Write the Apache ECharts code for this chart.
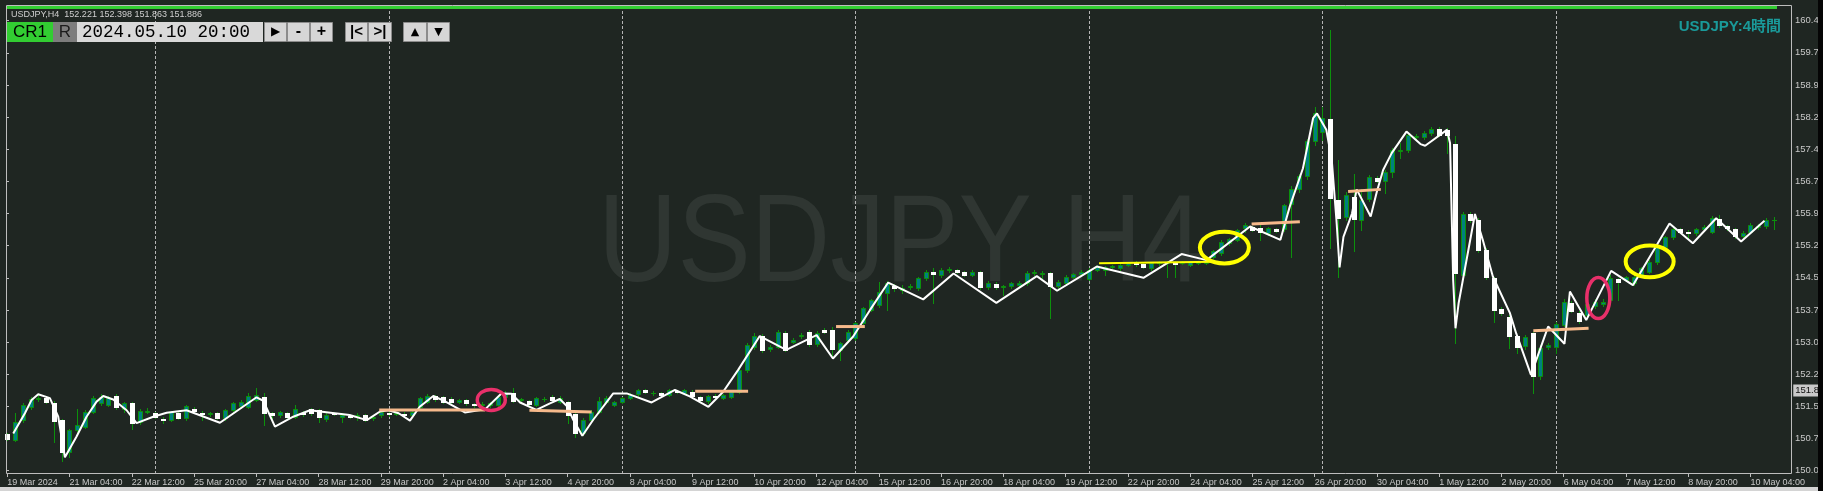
<!DOCTYPE html>
<html>
<head>
<meta charset="utf-8">
<title>USDJPY H4</title>
<script src="https://cdn.jsdelivr.net/npm/echarts@6.0.0/dist/echarts.min.js"></script>
<style>
html,body{margin:0;padding:0;background:#1f2622;overflow:hidden;}
#chart{width:1823px;height:491px;}
</style>
</head>
<body>
<div id="chart"></div>
<script>
// ---------------- data ----------------
// H4 bars, index 0 = 19 Mar 2024 20:00 ... [open, close, low, high]
const ohlc = [
[150.87,150.76,150.74,150.90],[150.74,151.16,150.72,151.36],[151.20,151.55,151.16,151.59],[151.50,151.68,151.46,151.74],
[151.69,151.72,151.64,151.80],[151.71,151.63,151.60,151.76],[151.60,151.19,150.70,151.64],[151.20,150.47,150.26,151.22],
[150.47,150.97,150.34,151.00],[150.97,151.09,150.90,151.45],[151.05,151.40,151.02,151.43],[151.40,151.72,151.37,151.76],
[151.59,151.74,151.55,151.80],[151.55,151.72,151.52,151.76],[151.76,151.51,151.47,151.80],[151.45,151.60,151.40,151.63],
[151.60,151.14,150.99,151.62],[151.16,151.42,151.12,151.45],[151.40,151.42,151.36,151.48],[151.37,151.28,151.24,151.40],
[151.22,151.20,151.13,151.28],[151.20,151.40,151.17,151.42],[151.37,151.26,151.22,151.42],[151.24,151.52,151.20,151.55],
[151.45,151.41,151.38,151.50],[151.37,151.35,151.20,151.42],[151.34,151.37,151.30,151.40],[151.36,151.26,151.22,151.38],
[151.24,151.43,151.20,151.46],[151.43,151.59,151.40,151.62],[151.52,151.63,151.48,151.66],[151.51,151.76,151.48,151.83],
[151.67,151.78,151.64,151.94],[151.74,151.36,151.09,151.82],[151.36,151.32,151.26,151.40],[151.31,151.38,151.28,151.42],
[151.37,151.28,151.25,151.40],[151.28,151.47,151.25,151.55],[151.37,151.35,151.30,151.42],[151.45,151.37,151.33,151.48],
[151.43,151.28,151.16,151.46],[151.22,151.33,151.19,151.36],[151.37,151.35,151.32,151.40],[151.28,151.32,151.16,151.36],
[151.30,151.28,151.25,151.33],[151.30,151.32,151.20,151.36],[151.32,151.20,151.17,151.35],[151.24,151.27,151.20,151.30],
[151.32,151.40,151.28,151.44],[151.37,151.34,151.30,151.44],[151.35,151.36,151.31,151.40],[151.34,151.33,151.28,151.38],
[151.32,151.40,151.28,151.42],[151.50,151.71,151.46,151.74],[151.63,151.76,151.60,151.80],[151.75,151.68,151.64,151.78],
[151.74,151.63,151.60,151.77],[151.70,151.62,151.58,151.74],[151.63,151.67,151.60,151.70],[151.67,151.59,151.56,151.70],
[151.57,151.54,151.51,151.60],[151.55,151.58,151.52,151.62],[151.54,151.59,151.51,151.62],[151.56,151.74,151.53,151.77],
[151.74,151.84,151.71,151.88],[151.82,151.65,151.62,151.94],[151.66,151.68,151.62,151.72],[151.64,151.57,151.54,151.67],
[151.55,151.71,151.52,151.74],[151.70,151.68,151.65,151.74],[151.74,151.67,151.63,151.78],[151.63,151.72,151.60,151.76],
[151.61,151.32,151.13,151.64],[151.34,150.90,150.82,151.36],[150.90,151.21,150.85,151.24],[151.21,151.40,151.18,151.44],
[151.40,151.65,151.37,151.74],[151.63,151.71,151.60,151.75],[151.55,151.61,151.52,151.64],[151.63,151.71,151.59,151.74],
[151.71,151.78,151.68,151.82],[151.80,151.90,151.76,151.93],[151.90,151.86,151.83,151.93],[151.84,151.82,151.78,151.87],
[151.82,151.78,151.75,151.85],[151.78,151.90,151.75,151.93],[151.87,151.86,151.82,151.90],[151.84,151.90,151.80,151.93],
[151.86,151.77,151.74,151.90],[151.74,151.67,151.63,151.77],[151.65,151.76,151.60,151.79],[151.75,151.74,151.70,151.80],
[151.71,151.78,151.68,151.81],[151.74,151.86,151.71,151.89],[151.86,152.36,151.82,152.40],[152.36,152.94,152.32,152.98],
[152.90,153.15,152.86,153.22],[153.15,152.83,152.78,153.19],[152.84,152.90,152.80,152.94],[152.90,153.25,152.87,153.28],
[153.23,152.83,152.80,153.26],[153.02,153.06,152.98,153.10],[153.14,153.17,153.10,153.22],[153.25,152.97,152.93,153.28],
[152.97,153.23,152.93,153.26],[153.29,153.25,153.21,153.33],[153.30,152.84,152.63,153.35],[152.83,152.98,152.60,153.01],
[153.06,153.25,153.02,153.28],[153.10,153.45,153.05,153.48],[153.45,153.79,153.42,153.83],[153.75,153.99,153.72,154.02],
[153.87,154.18,153.83,154.41],[154.14,154.37,153.76,154.43],[154.30,154.26,154.20,154.35],[154.22,154.26,154.14,154.33],
[154.28,154.31,154.25,154.35],[154.26,154.49,154.22,154.52],[154.49,154.64,154.46,154.68],[154.63,154.59,153.91,154.72],
[154.57,154.68,154.53,154.72],[154.67,154.70,154.64,154.75],[154.67,154.63,154.60,154.71],[154.63,154.57,154.54,154.66],
[154.57,154.64,154.54,154.68],[154.63,154.28,154.25,154.66],[154.28,154.39,154.24,154.42],[154.36,154.28,154.25,154.40],
[154.29,154.31,154.10,154.33],[154.30,154.37,154.27,154.40],[154.33,154.39,154.30,154.42],[154.37,154.62,154.34,154.66],
[154.60,154.64,154.57,154.68],[154.59,154.62,154.49,154.66],[154.60,154.30,153.56,154.64],[154.30,154.41,154.27,154.44],
[154.39,154.53,154.36,154.56],[154.53,154.58,154.50,154.61],[154.58,154.64,154.55,154.67],[154.47,154.68,154.44,154.72],
[154.68,154.76,154.65,154.79],[154.68,154.74,154.57,154.77],[154.76,154.77,154.72,154.80],[154.72,154.80,154.69,154.83],
[154.80,154.84,154.77,154.87],[154.85,154.81,154.78,154.88],[154.81,154.76,154.73,154.84],[154.72,154.84,154.69,154.87],
[154.84,154.85,154.80,154.88],[154.84,154.86,154.53,154.89],[154.85,154.83,154.53,154.88],[154.84,154.87,154.81,154.90],
[154.80,154.87,154.77,154.90],[154.84,154.87,154.81,154.90],[154.85,154.90,154.82,154.93],[154.99,155.12,154.95,155.15],
[155.07,155.34,155.03,155.37],[155.30,155.39,155.27,155.42],[155.38,155.61,155.35,155.64],[155.65,155.72,155.57,155.76],
[155.67,155.61,155.58,155.70],[155.66,155.57,155.38,155.76],[155.53,155.65,155.50,155.68],[155.62,155.59,155.56,155.65],
[155.62,156.19,155.58,156.22],[156.21,156.55,154.99,156.62],[156.56,156.86,156.50,156.90],[156.85,157.68,156.80,157.72],
[157.66,158.33,157.58,158.45],[157.89,158.20,157.70,158.45],[158.18,156.34,155.18,160.24],[156.30,155.88,154.53,157.23],
[155.90,156.42,155.84,156.50],[156.38,155.86,155.11,156.91],[155.84,156.30,155.61,156.57],[156.33,156.83,156.28,156.88],
[156.81,156.75,156.72,156.85],[156.75,156.96,156.46,157.01],[156.96,157.46,156.84,157.50],[157.44,157.47,157.27,157.62],
[157.46,157.81,157.42,157.85],[157.76,157.79,157.70,157.83],[157.76,157.86,157.72,157.90],[157.86,157.95,157.82,157.99],
[157.95,157.81,157.78,157.99],[157.93,157.81,157.39,157.97],[157.60,154.62,152.98,157.79],[154.57,155.99,154.50,156.03],
[155.99,155.84,155.80,156.03],[155.84,155.15,155.10,155.88],[155.15,154.53,154.48,155.18],[154.49,153.75,153.48,154.52],
[153.77,153.69,153.64,153.82],[153.60,153.15,152.87,153.64],[153.15,152.90,152.75,153.18],[152.92,153.12,152.85,153.18],
[153.21,152.22,151.84,153.25],[152.22,152.88,152.16,152.94],[152.90,152.94,152.84,152.98],[152.90,153.43,152.75,153.48],
[153.41,153.95,153.38,154.00],[153.92,153.74,153.70,153.96],[153.69,153.51,153.46,153.73],[153.64,153.89,153.60,153.93],
[153.85,153.95,153.80,154.00],[153.89,153.95,153.85,154.00],[153.99,154.49,153.95,154.57],[154.47,154.41,153.99,154.50],
[154.45,154.51,154.42,154.55],[154.37,154.53,154.33,154.57],[154.57,154.72,154.53,154.76],[154.64,154.87,154.60,154.91],
[154.87,155.22,154.83,155.26],[155.22,155.44,155.18,155.47],[155.44,155.62,155.40,155.66],[155.62,155.57,155.54,155.66],
[155.57,155.53,155.40,155.60],[155.53,155.62,155.50,155.66],[155.62,155.68,155.59,155.72],[155.57,155.88,155.53,155.93],
[155.86,155.72,155.68,155.96],[155.69,155.65,155.61,155.72],[155.62,155.47,155.43,155.66],[155.47,155.55,155.40,155.58],
[155.57,155.72,155.53,155.76],[155.67,155.70,155.64,155.74],[155.70,155.84,155.66,155.88],[155.83,155.84,155.62,155.90]
];

// white swing line vertices [bar position, price]
const whiteLine = [
[0.77,150.89],[2.27,151.36],[3.13,151.67],[3.98,151.80],[5.48,151.71],[6.55,151.28],[7.41,150.34],[8.91,150.82],
[10.19,151.28],[11.48,151.63],[12.33,151.76],[13.62,151.68],[15.34,151.43],[16.62,151.13],[18.76,151.28],[20.48,151.37],
[23.04,151.43],[27.33,151.14],[32.04,151.73],[32.9,151.65],[34.4,151.05],[36.75,151.28],[38.9,151.43],[40.18,151.40],
[44.0,151.32],[46.2,151.20],[47.9,151.40],[49.0,151.43],[50.3,151.36],[51.75,151.19],[53.0,151.51],[54.75,151.76],
[56.2,151.64],[58.8,151.38],[61.4,151.45],[63.5,151.82],[64.8,151.81],[65.9,151.61],[68.0,151.44],[69.74,151.59],
[71.0,151.69],[71.9,151.53],[72.73,151.21],[73.9,150.84],[75.3,151.21],[77.87,151.82],[79.6,151.82],[82.8,151.61],
[85.8,151.90],[87.7,151.75],[90.1,151.51],[92.0,151.86],[93.9,152.36],[96.7,153.15],[100.1,152.83],[104.0,153.17],
[106.1,152.63],[108.7,153.14],[110.85,153.75],[113.2,154.39],[117.7,154.00],[121.6,154.60],[127.1,153.92],[132.3,154.54],
[134.9,154.20],[140.0,154.76],[146.0,154.50],[150.9,155.05],[154.1,154.91],[159.7,155.69],[163.6,155.38],[164.8,156.15],
[166.5,157.04],[167.8,158.20],[168.3,158.31],[169.5,157.93],[170.2,157.23],[170.8,155.84],[171.2,154.74],[171.7,155.45],
[172.8,155.99],[173.4,156.55],[175.2,155.92],[176.0,156.50],[176.8,157.00],[177.9,157.39],[179.8,157.89],[181.6,157.60],
[182.2,157.56],[185.0,157.93],[185.4,157.62],[185.8,154.45],[186.1,153.33],[186.5,153.91],[188.6,155.98],[189.6,155.38],
[190.9,154.53],[193.1,153.68],[193.9,153.21],[195.8,152.25],[198.0,153.37],[200.1,152.97],[200.8,154.18],[202.9,153.52],
[206.1,154.66],[208.9,154.33],[213.6,155.76],[216.6,155.30],[219.6,155.88],[222.8,155.34],[225.8,155.82]
];

// orange level segments [fromBar, fromPrice, toBar, toPrice]
const orangeLevels = [
[47.8,151.436,61.4,151.436],[67.1,151.43,75.1,151.39],[88.4,151.87,95.2,151.87],[106.5,153.37,110.2,153.37],
[159.9,155.75,166.1,155.80],[172.3,156.50,176.5,156.55],[196.1,153.27,203.2,153.33]
];
const yellowLevels = [[140.3,154.84,155.2,154.87]];

// annotation ellipse centres [bar position, price]
const pinkMarks = [[62.2,151.67],[204.45,154.03]];
const yellowMarks = [[156.4,155.20],[211.05,154.88]];

// weekly separators (Monday 00:00 bars)
const weekStarts = [19,49,79,109,139,169,199];

// time-axis labels
const xTickBars = [0,8,16,24,32,40,48,56,64,72,80,88,96,104,112,120,128,136,144,152,160,168,176,184,192,200,208,216,224];
const xTickLabels = ['19 Mar 2024','21 Mar 04:00','22 Mar 12:00','25 Mar 20:00','27 Mar 04:00','28 Mar 12:00','29 Mar 20:00',
'2 Apr 04:00','3 Apr 12:00','4 Apr 20:00','8 Apr 04:00','9 Apr 12:00','10 Apr 20:00','12 Apr 04:00','15 Apr 12:00',
'16 Apr 20:00','18 Apr 04:00','19 Apr 12:00','22 Apr 20:00','24 Apr 04:00','25 Apr 12:00','26 Apr 20:00','30 Apr 04:00',
'1 May 12:00','2 May 20:00','6 May 04:00','7 May 12:00','8 May 20:00','10 May 04:00'];

// price-axis labels
const yTicks = [160.460,159.715,158.970,158.225,157.480,156.735,155.990,155.245,154.500,153.755,153.010,152.265,151.520,150.775,150.030];
const bidPrice = 151.886;
const headerText = 'USDJPY,H4  152.221 152.398 151.863 151.886';
const replayTime = '2024.05.10 20:00';
const symbolTitle = 'USDJPY:4時間';
const watermark = 'USDJPY H4';

// ---------------- chart ----------------
const BAR_SLOTS = 230;
const yMin = 149.952, yMax = 160.801;
const BG = '#1f2622', WICK = '#0c910c', BULL = '#008080', BEAR = '#ffffff';
const AXIS_TXT = '#c8c8c8', FRAME = '#bdbdbd';
const FONT = '"Liberation Sans", Arial, sans-serif';

const slots = Array.from({length: BAR_SLOTS}, (_, i) => String(i));
const tickMap = new Map(xTickBars.map((b, k) => [b, xTickLabels[k]]));

const chart = echarts.init(document.getElementById('chart'), null, {renderer: 'canvas', width: 1823, height: 491});

function btn(x, w, label, font) {
  return [
    {type: 'rect', zlevel: 1, z: 50, shape: {x: x + 0.5, y: 22.5, width: w - 1, height: 19}, style: {fill: '#d6d6d6', stroke: '#8c8c8c', lineWidth: 1}},
    {type: 'text', zlevel: 1, z: 51, x: x + w / 2, y: 32, style: {text: label, fill: '#000', font: font || 'bold 15px ' + FONT, align: 'center', verticalAlign: 'middle'}}
  ];
}

const graphics = [
  // watermark (behind the bars)
  {type: 'text', x: 598, y: 247, scaleX: 0.88, z: 0, silent: true,
   style: {text: watermark, fill: '#2f3632', font: '125px ' + FONT, align: 'left', verticalAlign: 'middle'}},
  // frame
  {type: 'rect', zlevel: 1, z: 40, shape: {x: 6.5, y: 5.5, width: 1785, height: 468}, style: {fill: 'none', stroke: FRAME, lineWidth: 1}, silent: true},
  // top green bar
  {type: 'rect', zlevel: 1, z: 41, shape: {x: 7, y: 6, width: 1770, height: 3}, style: {fill: '#32cd32'}},
  // header
  {type: 'text', zlevel: 1, z: 41, x: 11, y: 14.5, style: {text: headerText, fill: '#cfcfcf', font: '9px ' + FONT, verticalAlign: 'middle'}},
  // CR1, R, date
  {type: 'rect', zlevel: 1, z: 50, shape: {x: 7, y: 22, width: 46, height: 20}, style: {fill: '#32cd32'}},
  {type: 'text', zlevel: 1, z: 51, x: 30, y: 32.5, style: {text: 'CR1', fill: '#000', font: '17px ' + FONT, align: 'center', verticalAlign: 'middle'}},
  {type: 'rect', zlevel: 1, z: 50, shape: {x: 53, y: 22, width: 24, height: 20}, style: {fill: '#7d7d7d'}},
  {type: 'text', zlevel: 1, z: 51, x: 65, y: 32.5, style: {text: 'R', fill: '#1c1c1c', font: '17px ' + FONT, align: 'center', verticalAlign: 'middle'}},
  {type: 'rect', zlevel: 1, z: 50, shape: {x: 77, y: 22, width: 186, height: 20}, style: {fill: '#d9d9d9'}},
  {type: 'text', zlevel: 1, z: 51, x: 82, y: 32.5, style: {text: replayTime, fill: '#000', font: '17.5px "Liberation Mono", monospace', align: 'left', verticalAlign: 'middle'}},
  ...btn(264, 23, '▶', '12px "DejaVu Sans"'),
  ...btn(287, 23, '-', 'bold 16px ' + FONT),
  ...btn(310, 23, '+', 'bold 16px ' + FONT),
  ...btn(345, 23, '|<', 'bold 15px ' + FONT),
  ...btn(368, 24, '>|', 'bold 15px ' + FONT),
  ...btn(403, 24, '▲', '11px "DejaVu Sans"'),
  ...btn(427, 23, '▼', '11px "DejaVu Sans"'),
  // symbol title
  {type: 'text', zlevel: 1, z: 41, x: 1781, y: 27, style: {text: symbolTitle, fill: '#1a9a9a', font: 'bold 15px "Liberation Sans", "Noto Sans CJK JP", sans-serif', align: 'right', verticalAlign: 'middle'}},
  // window edges
  {type: 'rect', zlevel: 1, z: 100, shape: {x: 0, y: 487, width: 1818, height: 4}, style: {fill: '#d4d4d4'}},
  {type: 'rect', zlevel: 1, z: 100, shape: {x: 1818, y: 0, width: 5, height: 491}, style: {fill: '#050505'}}
];

const option = {
  animation: false,
  backgroundColor: BG,
  textStyle: {fontFamily: FONT},
  grid: [
    {left: 3.35, right: 29.75, top: 6, bottom: 17, show: false, containLabel: false, outerBoundsMode: 'none'},
    {left: 6, right: 31, top: 6, bottom: 17, show: false, containLabel: false, outerBoundsMode: 'none'}
  ],
  xAxis: [
    {type: 'category', gridIndex: 0, data: slots, boundaryGap: true,
     axisLine: {show: false},
     axisTick: {show: true, alignWithLabel: true, interval: (i) => tickMap.has(i), length: 3, lineStyle: {color: FRAME}},
     axisLabel: {interval: (i) => tickMap.has(i), formatter: (v, i) => tickMap.get(i) || '', align: 'left',
                 margin: 4, color: AXIS_TXT, fontSize: 9, fontFamily: FONT, hideOverlap: false},
     splitLine: {show: false}},
    {type: 'value', gridIndex: 0, min: -0.5, max: BAR_SLOTS - 0.5, show: false},
    {type: 'value', gridIndex: 1, min: 0, max: 1, show: false}
  ],
  yAxis: [
    {type: 'value', gridIndex: 0, min: yMin, max: yMax, position: 'right',
     axisLine: {show: false}, axisTick: {show: false}, splitLine: {show: false},
     axisLabel: {customValues: [bidPrice], formatter: (v) => v.toFixed(3), color: '#111', backgroundColor: '#c9c9c9',
                 padding: [1, 2, 1, 2], margin: 0, fontSize: 9.5, fontFamily: FONT}},
    {type: 'value', gridIndex: 1, min: yMin, max: yMax, position: 'right',
     axisLine: {show: false}, splitLine: {show: false},
     axisTick: {show: true, customValues: yTicks, length: 3, lineStyle: {color: FRAME}},
     axisLabel: {customValues: yTicks, formatter: (v) => v.toFixed(3), color: AXIS_TXT, fontSize: 9.5, margin: 3, fontFamily: FONT}}
  ],
  graphic: graphics,
  series: [
    {
      name: 'weeks', type: 'custom', xAxisIndex: 1, yAxisIndex: 0, silent: true, z: 1,
      data: weekStarts.map((b) => [b, yMin]), encode: {x: 0, y: 1},
      renderItem: (params, api) => {
        const p = api.coord([api.value(0), yMin]);
        const cs = params.coordSys;
        const x = Math.round(p[0]) + 0.5;
        return {type: 'line', shape: {x1: x, y1: cs.y, x2: x, y2: cs.y + cs.height},
                style: {stroke: '#b5b5b5', lineWidth: 1, lineDash: [3, 2]}};
      }
    },
    {
      name: 'USDJPY', type: 'custom', xAxisIndex: 0, yAxisIndex: 0, silent: true, z: 2, clip: true,
      data: ohlc.map((r, i) => [i, r[0], r[1], r[2], r[3]]), encode: {x: 0, y: [1, 2, 3, 4]},
      renderItem: (params, api) => {
        const i = api.value(0), o = api.value(1), c = api.value(2), l = api.value(3), h = api.value(4);
        const pO = api.coord([i, o]), pC = api.coord([i, c]), pL = api.coord([i, l]), pH = api.coord([i, h]);
        const x = Math.round(pO[0]);
        const yT = Math.round(Math.min(pO[1], pC[1])), yB = Math.round(Math.max(pO[1], pC[1]));
        const kids = [{type: 'line', shape: {x1: x + 0.5, y1: Math.round(pH[1]), x2: x + 0.5, y2: Math.round(pL[1]) + 1},
                       style: {stroke: WICK, lineWidth: 1}}];
        if (yB - yT < 1) {
          kids.push({type: 'line', shape: {x1: x - 2, y1: yT + 0.5, x2: x + 3, y2: yT + 0.5}, style: {stroke: WICK, lineWidth: 1}});
        } else if (c >= o) {
          kids.push({type: 'rect', shape: {x: x - 1.5, y: yT + 0.5, width: 4, height: yB - yT}, style: {fill: BULL, stroke: WICK, lineWidth: 1}});
        } else {
          kids.push({type: 'rect', shape: {x: x - 2, y: yT, width: 5, height: yB - yT + 1}, style: {fill: BEAR}});
        }
        return {type: 'group', children: kids};
      }
    },
    {
      name: 'swing', type: 'line', xAxisIndex: 1, yAxisIndex: 0, silent: true, z: 3,
      data: whiteLine, symbol: 'none', lineStyle: {color: '#ffffff', width: 2}
    },
    {
      name: 'levels', type: 'custom', xAxisIndex: 1, yAxisIndex: 0, silent: true, z: 4,
      data: orangeLevels.concat(yellowLevels), encode: {x: [0, 2], y: [1, 3]},
      renderItem: (params, api) => {
        const a = api.coord([api.value(0), api.value(1)]);
        const b = api.coord([api.value(2), api.value(3)]);
        const yellow = params.dataIndex >= orangeLevels.length;
        return {type: 'line', shape: {x1: a[0], y1: a[1], x2: b[0], y2: b[1]},
                style: {stroke: yellow ? '#ffff00' : '#f6b98b', lineWidth: yellow ? 2 : 3}};
      }
    },
    {
      name: 'marks', type: 'custom', xAxisIndex: 1, yAxisIndex: 0, silent: true, z: 5,
      data: pinkMarks.concat(yellowMarks), encode: {x: 0, y: 1},
      renderItem: (params, api) => {
        const looks = [
          {rx: 14, ry: 10.5, color: '#e8306a', w: 3.5},
          {rx: 11.5, ry: 20.5, color: '#e8306a', w: 3.5},
          {rx: 24.5, ry: 15.8, color: '#ffff00', w: 4},
          {rx: 24, ry: 15.8, color: '#ffff00', w: 4}
        ];
        const s = looks[params.dataIndex];
        const c = api.coord([api.value(0), api.value(1)]);
        return {type: 'ellipse', shape: {cx: c[0], cy: c[1], rx: s.rx, ry: s.ry},
                style: {fill: 'none', stroke: s.color, lineWidth: s.w}};
      }
    }
  ]
};
chart.setOption(option);
</script>
</body>
</html>
